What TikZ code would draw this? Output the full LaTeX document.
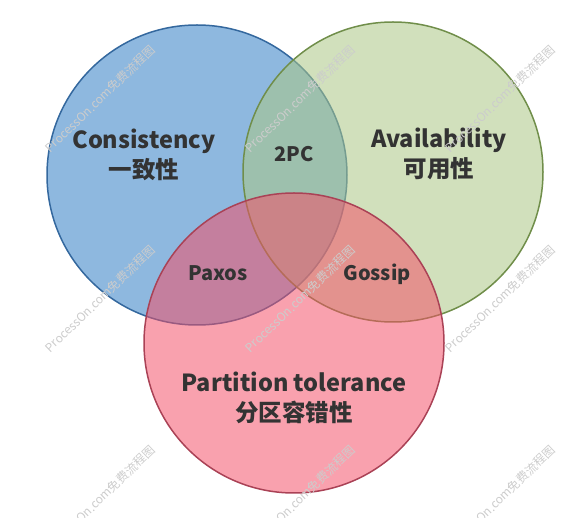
\documentclass[tikz,border=0pt]{standalone}
\usepackage{fontspec}
\setmainfont{Noto Sans CJK SC}
\definecolor{bluefill}{RGB}{142,184,223}
\definecolor{blueline}{RGB}{52,104,158}
\definecolor{greenfill}{RGB}{171,199,133}
\definecolor{greenline}{RGB}{112,142,74}
\definecolor{redfill}{RGB}{244,78,102}
\definecolor{redline}{RGB}{170,66,86}
\definecolor{txt}{RGB}{51,51,51}

\begin{document}
\begin{tikzpicture}[x=1pt,y=-1pt,
  set/.style={line width=1.5pt},
  big/.style={font=\bfseries\fontsize{23.5}{30}\selectfont,text=txt,align=center},
  small/.style={font=\bfseries\fontsize{20}{22}\selectfont,text=txt},
  wm/.style={font=\fontsize{12}{12}\selectfont,text=black!20,rotate=44}]
  \useasboundingbox (0,0) rectangle (579,518);
  \clip (0,0) rectangle (579,518);
  \coordinate (C) at (197,175);
  \coordinate (A) at (393,172);
  \coordinate (P) at (294,343);
  % the three sets
  \draw[set,fill=bluefill,draw=blueline] (C) circle[radius=150];
  \draw[set,fill=greenfill,fill opacity=.55,draw=greenline] (A) circle[radius=150];
  \draw[set,fill=redfill,fill opacity=.53,draw=redline] (P) circle[radius=150];
  % labels
  \node[big] (cons) at (144,155) {Consistency\\一致性};
  \node[big] (avail) at (439,154) {Availability\\可用性};
  \node[big] (part) at (294,398) {Partition tolerance\\分区容错性};
  \node[small] (twopc) at (294,154) {2PC};
  \node[small] (paxos) at (218,273) {Paxos};
  \node[small] (gossip) at (377,274) {Gossip};
  % watermark
  \foreach \x in {100,300,500}
    \foreach \y in {99,299,499}
      \node[wm] (wm-\x-\y) at (\x,\y) {ProcessOn.com免费流程图};
\end{tikzpicture}
\end{document}
